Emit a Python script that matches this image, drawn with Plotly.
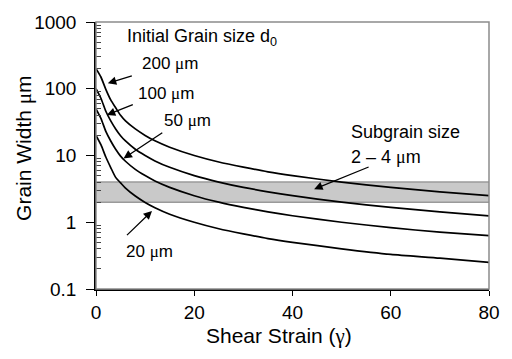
import numpy as np
import plotly.graph_objects as go

# Data
shear_strain = [0, 1, 2, 3, 4, 5, 6, 8, 10, 12, 15, 20, 25, 30, 35, 40, 50, 60, 70, 80]
width_200 = [200, 150, 98, 68, 52, 40, 33, 25, 20, 16.6, 13.3, 10.0, 8.0, 6.7, 5.7, 5.0, 4.0, 3.33, 2.86, 2.5]
width_100 = [100, 72, 46, 33, 25, 19.8, 16.5, 12.4, 10.0, 8.3, 6.65, 5.0, 4.0, 3.33, 2.86, 2.5, 2.0, 1.67, 1.43, 1.25]
width_50 = [50, 36, 23, 16.5, 12.4, 9.8, 8.2, 6.2, 5.0, 4.15, 3.33, 2.5, 2.0, 1.67, 1.43, 1.25, 1.0, 0.83, 0.71, 0.63]
width_20 = [20, 14.5, 9.5, 6.6, 4.7, 3.9, 3.25, 2.47, 1.98, 1.65, 1.32, 1.0, 0.8, 0.67, 0.57, 0.5, 0.4, 0.33, 0.29, 0.25]
band_x = [0, 80]
band_low = [2, 2]
band_high = [4, 4]
y_ticks = [0.1, 1, 10, 100, 1000]
y_ticktext = ["0.1", "1", "10", "100", "1000"]
x_ticks = [0, 20, 40, 60, 80]

FONT = "Liberation Sans, Arial, sans-serif"
SERIF = "Liberation Serif, serif"
MU = "<span style='font-family:" + SERIF + "'>μ</span>"

fig = go.Figure()

# grey band 2-4 um
fig.add_trace(go.Scatter(x=band_x, y=band_low, mode="lines",
                         line=dict(color="#9a9a9a", width=1.5), showlegend=False, hoverinfo="skip"))
fig.add_trace(go.Scatter(x=band_x, y=band_high, mode="lines", fill="tonexty",
                         fillcolor="#c9c9c9",
                         line=dict(color="#9a9a9a", width=1.5), showlegend=False, hoverinfo="skip"))

for ys in (width_200, width_100, width_50, width_20):
    fig.add_trace(go.Scatter(x=shear_strain, y=ys, mode="lines",
                             line=dict(color="black", width=1.7, shape="spline", smoothing=0.6),
                             showlegend=False))


def label(text, x, y, size=18):
    fig.add_annotation(x=x, y=y, text=text, showarrow=False, xanchor="left",
                       yanchor="middle", font=dict(family=FONT, size=size, color="black"))


def arrow(x0, y0, x1, y1):
    fig.add_annotation(x=x1, y=y1, ax=x0, ay=y0, axref="x", ayref="y", text="",
                       showarrow=True, arrowhead=2, arrowsize=1.3, arrowwidth=1.3,
                       arrowcolor="black")


label("Initial Grain size d<sub>0</sub>", 6.0, 2.763)
label("200 " + MU + "m", 9.0, 2.378, 17)
label("100 " + MU + "m", 8.2, 1.933, 17)
label("50 " + MU + "m", 13.4, 1.519, 17)
label("20 " + MU + "m", 5.8, -0.437, 17)
label("Subgrain size", 51.4, 1.356)
label("2 – 4 " + MU + "m", 51.4, 0.985)

arrow(7.6, 2.20, 2.4, 2.081)
arrow(7.8, 1.77, 2.2, 1.607)
arrow(13.8, 1.356, 5.6, 0.956)
arrow(6.0, -0.215, 11.4, 0.17)
arrow(55.8, 0.837, 44.4, 0.496)

# axis titles
fig.add_annotation(xref="paper", yref="paper", x=0.465, y=-0.175, yanchor="middle",
                   text="Shear Strain (<span style='font-family:" + SERIF + "'>γ</span>)",
                   showarrow=False, font=dict(family=FONT, size=21, color="black"))
fig.add_annotation(xref="paper", yref="paper", x=-0.183, y=0.525, textangle=-90,
                   xanchor="center", yanchor="middle",
                   text="Grain Width " + MU + "m",
                   showarrow=False, font=dict(family=FONT, size=21, color="black"))

# grey frame
fig.add_shape(type="rect", xref="paper", yref="paper", x0=0, y0=0, x1=1, y1=1,
              line=dict(color="#8c8c8c", width=1.5), layer="above")

fig.update_xaxes(range=[0, 80], tickvals=x_ticks, ticks="outside", ticklen=5,
                 tickcolor="black", showline=True, linecolor="black", linewidth=1.5,
                 showgrid=False, zeroline=False,
                 tickfont=dict(family=FONT, size=19, color="black"))
fig.update_yaxes(type="log", range=[-1, 3], tickvals=y_ticks, ticktext=y_ticktext,
                 ticks="outside", ticklen=8, tickcolor="black", ticklabelstandoff=6,
                 showline=True, linecolor="black", linewidth=1.5,
                 showgrid=False, zeroline=False,
                 minor=dict(ticks="inside", ticklen=5, tickcolor="#444",
                            tickvals=[v * m for v in (0.1, 1, 10, 100) for m in range(2, 10)],
                            showgrid=False),
                 tickfont=dict(family=FONT, size=19, color="black"))

fig.update_layout(width=512, height=359, margin=dict(l=96, r=16, t=19, b=70),
                  plot_bgcolor="white", paper_bgcolor="white", showlegend=False)

fig.write_html("out.html")
